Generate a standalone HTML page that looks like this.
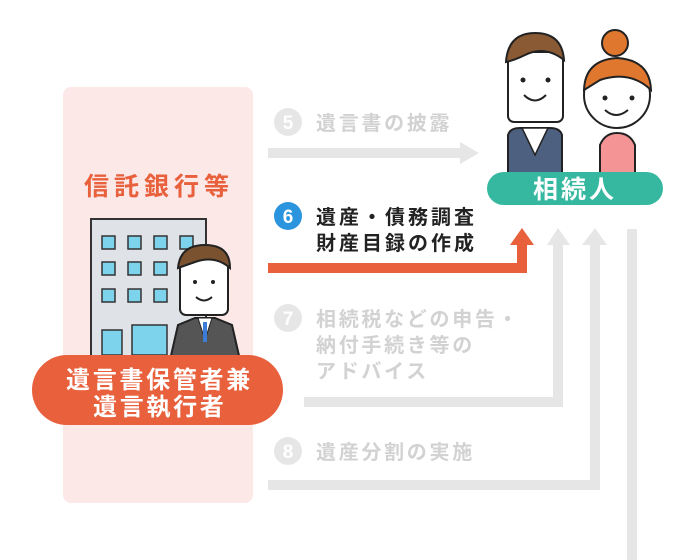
<!DOCTYPE html>
<html><head><meta charset="utf-8"><style>
html,body{margin:0;padding:0;background:#fff;}
svg{display:block;}
text{font-family:"Liberation Sans","Noto Sans CJK JP",sans-serif;font-weight:bold;}
</style></head><body>
<svg width="700" height="560" viewBox="0 0 700 560" xmlns="http://www.w3.org/2000/svg">
<rect x="63" y="87" width="190" height="416" rx="8" fill="#fde8e8"/>
<text x="84" y="195" font-size="25" letter-spacing="5" fill="#e8603c">信託銀行等</text>
<!-- building -->
<rect x="91" y="219" width="115" height="140" fill="#dfe2e6" stroke="#333" stroke-width="2"/>
<g fill="#7dd3ec" stroke="#333" stroke-width="1.5">
<rect x="102" y="236" width="13" height="13"/><rect x="128" y="236" width="13" height="13"/><rect x="154" y="236" width="13" height="13"/><rect x="180" y="236" width="13" height="13"/>
<rect x="102" y="262" width="13" height="13"/><rect x="128" y="262" width="13" height="13"/><rect x="154" y="262" width="13" height="13"/>
<rect x="102" y="289" width="13" height="13"/><rect x="128" y="289" width="13" height="13"/><rect x="154" y="289" width="13" height="13"/>
<rect x="102" y="330" width="20" height="25"/><rect x="132" y="325" width="35" height="30"/>
</g>
<!-- banker -->
<path d="M170 360 L178 325 L195 318 L215 318 L232 325 L240 360Z" fill="#555" stroke="#222" stroke-width="2"/>
<path d="M198 318 L205 340 L212 318Z" fill="#fff" stroke="#222"/>
<rect x="203" y="322" width="4" height="20" fill="#3b7dd8"/>
<rect x="180" y="255" width="48" height="60" rx="6" fill="#fff" stroke="#222" stroke-width="2"/>
<path d="M178 268 Q180 245 205 245 Q230 245 230 268 Q215 255 195 262 Z" fill="#7a5230" stroke="#222" stroke-width="2"/>
<circle cx="195" cy="282" r="2" fill="#222"/><circle cx="213" cy="282" r="2" fill="#222"/>
<path d="M196 297 Q204 304 212 297" fill="none" stroke="#222" stroke-width="2"/>
<rect x="32" y="355" width="251" height="70" rx="35" fill="#e8603c"/>
<text x="66" y="388" font-size="24" letter-spacing="2.7" fill="#fff">遺言書保管者兼</text>
<text x="93" y="415" font-size="24" letter-spacing="2.7" fill="#fff">遺言執行者</text>
<!-- arrows -->
<g fill="#e6e6e6">
<rect x="268" y="148" width="194" height="10"/><polygon points="460,142 479,153 460,164"/>
<rect x="553" y="244" width="10" height="163"/><polygon points="547,245 558,228 570,245"/>
<rect x="304" y="397" width="259" height="10"/>
<rect x="590" y="244" width="10" height="246"/><polygon points="582,245 595,228 607,245"/>
<rect x="268" y="480" width="332" height="10"/>
<rect x="627" y="229" width="10" height="331"/>
</g>
<rect x="268" y="263" width="259" height="10" fill="#e8603c"/>
<rect x="517" y="243" width="10" height="30" fill="#e8603c"/>
<polygon points="510,245 522,228 534,245" fill="#e8603c"/>
<!-- labels -->
<circle cx="288" cy="122" r="14" fill="#e6e6e6"/><text x="288" y="129" font-size="19" fill="#fff" text-anchor="middle">5</text>
<text x="316" y="130" font-size="20" letter-spacing="2.7" fill="#d2d2d2">遺言書の披露</text>
<circle cx="288" cy="216" r="14" fill="#2a95de"/><text x="288" y="223" font-size="19" fill="#fff" text-anchor="middle">6</text>
<text x="316" y="224" font-size="20" letter-spacing="3" fill="#222">遺産・債務調査</text>
<text x="316" y="250" font-size="20" letter-spacing="3" fill="#222">財産目録の作成</text>
<circle cx="288" cy="318" r="14" fill="#e6e6e6"/><text x="288" y="325" font-size="19" fill="#fff" text-anchor="middle">7</text>
<text x="316" y="326" font-size="20" letter-spacing="2.7" fill="#d2d2d2">相続税などの申告・</text>
<text x="316" y="352" font-size="20" letter-spacing="2.7" fill="#d2d2d2">納付手続き等の</text>
<text x="316" y="378" font-size="20" letter-spacing="2.7" fill="#d2d2d2">アドバイス</text>
<circle cx="288" cy="451" r="14" fill="#e6e6e6"/><text x="288" y="458" font-size="19" fill="#fff" text-anchor="middle">8</text>
<text x="316" y="459" font-size="20" letter-spacing="2.7" fill="#d2d2d2">遺産分割の実施</text>
<!-- heirs -->
<path d="M508 175 L508 135 Q510 128 520 128 L550 128 Q560 128 562 135 L562 175Z" fill="#4d6080" stroke="#222" stroke-width="2"/>
<path d="M522 128 L535 155 L548 128Z" fill="#fff" stroke="#222" stroke-width="1.5"/>
<rect x="508" y="52" width="55" height="70" rx="6" fill="#fff" stroke="#222" stroke-width="2"/>
<path d="M506 62 Q508 33 535 33 Q562 33 564 60 Q545 45 525 55 Q515 60 506 62Z" fill="#8a5a35" stroke="#222" stroke-width="2"/>
<circle cx="523" cy="80" r="2.5" fill="#222"/><circle cx="548" cy="80" r="2.5" fill="#222"/>
<path d="M524 95 Q535 106 546 95" fill="none" stroke="#222" stroke-width="2"/>
<path d="M600 175 L600 145 Q605 133 617 133 Q630 133 635 145 L635 175Z" fill="#f59494" stroke="#222" stroke-width="2"/>
<circle cx="615" cy="43" r="13" fill="#e0772e" stroke="#222" stroke-width="2"/>
<circle cx="617" cy="95" r="33" fill="#fff" stroke="#222" stroke-width="2"/>
<path d="M584 90 Q585 60 617 58 Q650 60 651 90 Q630 70 600 80 Z" fill="#e0772e" stroke="#222" stroke-width="2"/>
<circle cx="605" cy="98" r="2.5" fill="#222"/><circle cx="632" cy="98" r="2.5" fill="#222"/>
<path d="M605 110 Q616 120 628 110" fill="none" stroke="#222" stroke-width="2"/>
<rect x="487" y="172" width="176" height="33" rx="16.5" fill="#36b8a0"/>
<text x="533" y="198" font-size="25" letter-spacing="3" fill="#fff">相続人</text>
</svg>
</body></html>
